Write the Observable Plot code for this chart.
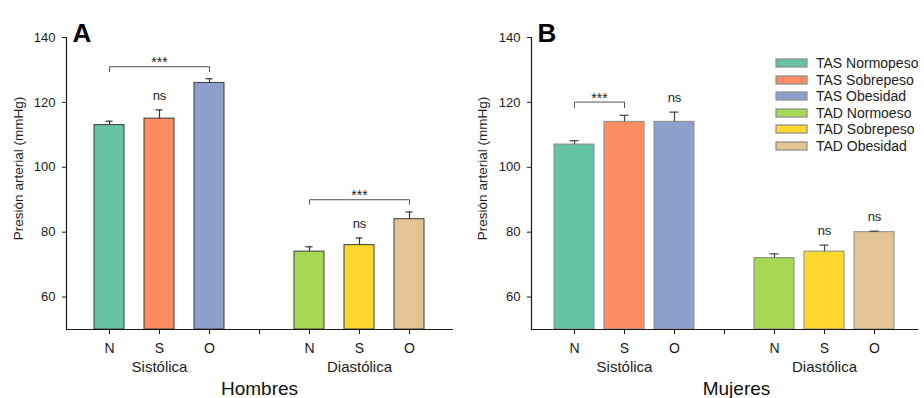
<!DOCTYPE html>
<html><head><meta charset="utf-8">
<script src="https://cdn.jsdelivr.net/npm/d3@7"></script>
<script src="https://cdn.jsdelivr.net/npm/@observablehq/plot@0.6"></script>
<style>
body{margin:0;background:#fff;}
#wrap{position:relative;width:924px;height:398px;display:flex;font-family:"Liberation Sans",Arial,sans-serif;}
#legend{position:absolute;left:776px;top:55px;}
#legend .lg-swatches{font-family:"Liberation Sans",Arial,sans-serif;font-size:14px;margin:0;color:#222;}
#legend .lg-swatch{height:16.5px;padding:0;margin:0;display:flex;align-items:center;}
#legend .lg-swatch > svg{margin-right:9px;overflow:visible;}
#legend .lg-swatch rect{stroke:#8a8a8a;stroke-width:1.2;}
</style></head><body>
<div id="wrap"><div id="legend"></div></div>
<script>
// ---- data ----
const categories = ["N1","S1","O1","gap","N2","S2","O2"];
const tickLabels = ["N","S","O","","N","S","O"];
const barCategories = ["N1","S1","O1","N2","S2","O2"];
const seriesNames = ["TAS Normopeso","TAS Sobrepeso","TAS Obesidad","TAD Normoeso","TAD Sobrepeso","TAD Obesidad"];
const seriesColors = ["#66c2a5","#fc8d62","#8da0cb","#a6d854","#ffd92f","#e5c494"];
const groupLabels = ["Sistólica","Diastólica"];
const groupCenters = ["S1","S2"];
const yTicks = [60,80,100,120,140];
const yDomain = [50,140];
const yLabel = "Presión arterial (mmHg)";

const hombresMean = [113,115,126,74,76,84];
const hombresSE = [1.2,2.7,1.3,1.5,2.2,2.2];
const hombresNs = ["S1","S2"];
const hombresBracketFrom = ["N1","N2"];
const hombresBracketTo = ["O1","O2"];
const hombresBracketTop = [131,90];
const hombresBracketDrop = [129.5,88.6];
const hombresBracketText = ["***","***"];

const mujeresMean = [107,114,114,72,74,80];
const mujeresSE = [1.2,2.0,3.0,1.3,2.0,0.3];
const mujeresNs = ["O1","S2","O2"];
const mujeresBracketFrom = ["N1"];
const mujeresBracketTo = ["S1"];
const mujeresBracketTop = [120.1];
const mujeresBracketDrop = [118.4];
const mujeresBracketText = ["***"];

// ---- chart ----
const W = 462, H = 398, MT = 37, MB = 69, PAD_OUTER = 0.36;
const FONT = '"Liberation Sans", Arial, sans-serif';

function panel({means, ses, ns, bFrom, bTo, bTop, bDrop, bText, letter, title, titleDx, ml, mr, inset, capW, barStroke, errStroke, ylabDx}) {
  const bars = barCategories.map((c, i) => ({cat: c, series: seriesNames[i], mean: means[i], top: means[i] + ses[i]}));
  const step = (W - ml - mr) / (categories.length + 2 * PAD_OUTER);
  const path = bFrom.flatMap((f, i) => [
    {b: i, x: f, y: bDrop[i]}, {b: i, x: f, y: bTop[i]},
    {b: i, x: bTo[i], y: bTop[i]}, {b: i, x: bTo[i], y: bDrop[i]}
  ]);
  const bracketLabels = bFrom.map((f, i) => ({x: f, y: bTop[i], label: bText[i],
    dx: (categories.indexOf(bTo[i]) - categories.indexOf(f)) / 2 * step}));
  const capInset = (step - capW) / 2;
  return Plot.plot({
    width: W, height: H, marginTop: MT, marginBottom: MB, marginLeft: ml, marginRight: mr,
    style: {fontFamily: FONT, fontSize: "13px", color: "#1a1a1a", background: "white", overflow: "visible"},
    x: {type: "band", domain: categories, paddingInner: 0, paddingOuter: PAD_OUTER},
    y: {domain: yDomain},
    color: {domain: seriesNames, range: seriesColors},
    marks: [
      Plot.barY(bars, {x: "cat", y1: yDomain[0], y2: "mean", fill: "series", stroke: barStroke, strokeWidth: 1, insetLeft: inset, insetRight: inset}),
      Plot.ruleX(bars, {x: "cat", y1: "mean", y2: "top", stroke: errStroke, strokeWidth: 1.2}),
      Plot.tickY(bars, {x: "cat", y: "top", stroke: errStroke, strokeWidth: 1.2, insetLeft: capInset, insetRight: capInset}),
      Plot.line(path, {x: "x", y: "y", z: "b", stroke: "#555", strokeWidth: 1}),
      ...bracketLabels.map(b => Plot.text([b], {x: "x", y: "y", text: "label", dx: b.dx, dy: -4, fontSize: 14, fill: "#222"})),
      Plot.text(bars.filter(d => ns.includes(d.cat)), {x: "cat", y: "top", text: () => "ns", dy: -14, fontSize: 13, fill: "#222"}),
      Plot.frame({anchor: "left", stroke: "#1a1a1a", strokeWidth: 1.2}),
      Plot.frame({anchor: "bottom", stroke: "#1a1a1a", strokeWidth: 1.2}),
      Plot.axisY({ticks: yTicks, tickSize: 4, tickPadding: 7, fontSize: 13, label: null, stroke: "#1a1a1a"}),
      Plot.axisX({tickSize: 5, tickPadding: 9, fontSize: 14, label: null, stroke: "#1a1a1a",
        tickFormat: d => tickLabels[categories.indexOf(d)]}),
      Plot.text(groupLabels.map((g, i) => ({x: groupCenters[i], label: g})), {x: "x", y: yDomain[0], text: "label", dy: 38, fontSize: 15, fill: "#222"}),
      Plot.text([{x: "gap", label: title}], {x: "x", y: yDomain[0], text: "label", dy: 59, dx: titleDx, fontSize: 19, fill: "#111"}),
      Plot.text([yLabel], {frameAnchor: "left", textAnchor: "middle", rotate: -90, dx: ylabDx, dy: -15, fontSize: 13.5, fill: "#222"}),
      Plot.text([letter], {frameAnchor: "top-left", textAnchor: "start", dx: 6, dy: -14, fontSize: 26, fontWeight: "bold", fill: "#000"})
    ]
  });
}

const wrap = document.getElementById("wrap");
wrap.appendChild(panel({
  means: hombresMean, ses: hombresSE, ns: hombresNs,
  bFrom: hombresBracketFrom, bTo: hombresBracketTo, bTop: hombresBracketTop, bDrop: hombresBracketDrop, bText: hombresBracketText,
  letter: "A", title: "Hombres", titleDx: 0, ml: 66, mr: 10, inset: 10, capW: 7,
  barStroke: "#3a3a3a", errStroke: "#333", ylabDx: -48
}));
wrap.appendChild(panel({
  means: mujeresMean, ses: mujeresSE, ns: mujeresNs,
  bFrom: mujeresBracketFrom, bTo: mujeresBracketTo, bTop: mujeresBracketTop, bDrop: mujeresBracketDrop, bText: mujeresBracketText,
  letter: "B", title: "Mujeres", titleDx: 12, ml: 69, mr: 7, inset: 5, capW: 9,
  barStroke: "#8a8a8a", errStroke: "#444", ylabDx: -49
}));

document.getElementById("legend").appendChild(Plot.legend({
  color: {type: "ordinal", domain: seriesNames, range: seriesColors},
  legend: "swatches", columns: 1, swatchWidth: 31, swatchHeight: 8, className: "lg"
}));
</script>
</body></html>
